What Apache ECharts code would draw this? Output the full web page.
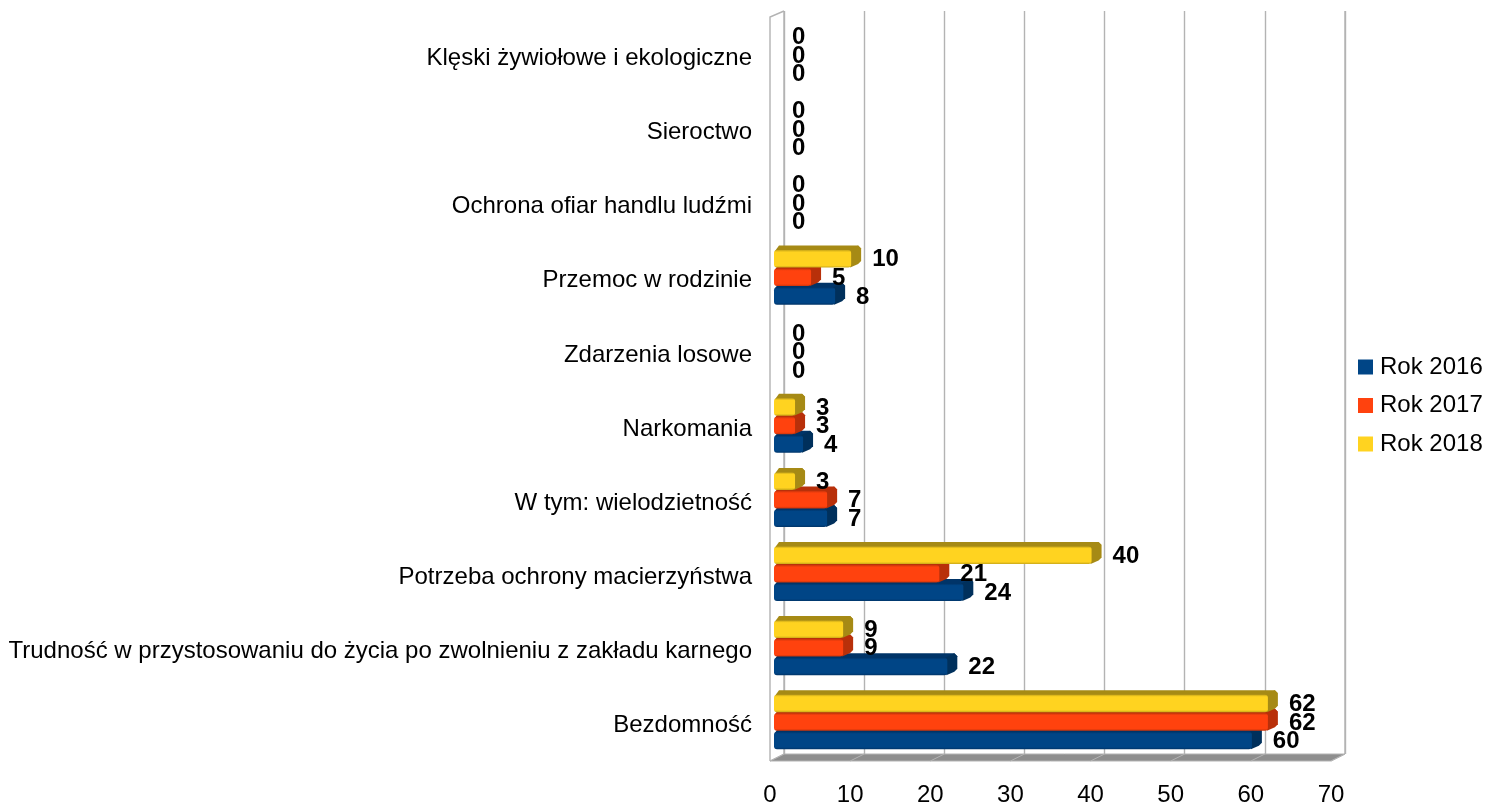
<!DOCTYPE html>
<html>
<head>
<meta charset="utf-8">
<title>Rok 2016-2018</title>
<script src="https://cdn.jsdelivr.net/npm/echarts@6/dist/echarts.min.js"></script>
<style>
    html, body {margin: 0; padding: 0; background: #fff;}
    #main {width: 1496px; height: 807px;}
</style>
</head>
<body>
<div id="main"></div>
<script>
// bottom to top, same order as the value axis
const categories = [
    'Bezdomność',
    'Trudność w przystosowaniu do życia po zwolnieniu z zakładu karnego',
    'Potrzeba ochrony macierzyństwa',
    'W tym: wielodzietność',
    'Narkomania',
    'Zdarzenia losowe',
    'Przemoc w rodzinie',
    'Ochrona ofiar handlu ludźmi',
    'Sieroctwo',
    'Klęski żywiołowe i ekologiczne'
];
const rok2016 = [60, 22, 24, 7, 4, 0, 8, 0, 0, 0];
const rok2017 = [62, 9, 21, 7, 3, 0, 5, 0, 0, 0];
const rok2018 = [62, 9, 40, 3, 3, 0, 10, 0, 0, 0];
const valueTicks = [0, 10, 20, 30, 40, 50, 60, 70];

const FONT = '"Liberation Sans", Arial, sans-serif';
const GRID_LINE = '#b3b3b3';
const WALL_DX = 14, WALL_DY = 7;   // back wall offset from the front plane
const BAR_DX = 10, BAR_DY = 4.5;   // depth of one bar
const BAR_SHIFT = -3.5;            // bars sit a little above the category label

function grad(c1, c2) {
    return new echarts.graphic.LinearGradient(0, 0, 0, 1, [
        {offset: 0, color: c1},
        {offset: 0.12, color: c2},
        {offset: 0.88, color: c2},
        {offset: 1, color: c1}
    ]);
}

function barSeries(name, values, slot, color) {
    return {
        name: name,
        type: 'custom',
        coordinateSystem: 'cartesian2d',
        xAxisIndex: 0,
        yAxisIndex: 0,
        itemStyle: {color: color.base},
        clip: false,
        silent: true,
        data: values.map(function (v, i) { return [v, i]; }),
        encode: {x: 0, y: 1},
        renderItem: function (params, api) {
            let v = api.value(0);
            let p = api.coord([v, api.value(1)]);
            let x0 = api.coord([0, 0])[0] + 4;
            let step = api.size([0, 1])[1] * 0.25;
            let h = 17.5;
            let yc = p[1] + BAR_SHIFT + slot * step;
            let yt = yc - h / 2, yb = yc + h / 2;
            let children = [];
            if (v > 0) {
                let x = p[0] + 1;
                children.push({
                    type: 'polygon',
                    shape: {points: [[x0 + 1, yt + 1], [x0 + 5, yt - BAR_DY], [x + BAR_DX - 3, yt - BAR_DY], [x + BAR_DX, yt - BAR_DY + 3], [x + 1, yt + 1]]},
                    style: {fill: color.top}
                });
                children.push({
                    type: 'polygon',
                    shape: {points: [[x - 2, yt], [x + BAR_DX - 3, yt - BAR_DY], [x + BAR_DX, yt - BAR_DY + 3], [x + BAR_DX, yb - BAR_DY - 2], [x + BAR_DX - 3, yb - BAR_DY + 1], [x - 1, yb]]},
                    style: {fill: color.side}
                });
                children.push({
                    type: 'rect',
                    shape: {x: x0, y: yt, width: x - x0, height: h, r: 3},
                    style: {fill: grad(color.edge, color.base)}
                });
            }
            children.push({
                type: 'text',
                z2: 100,
                style: {
                    x: p[0] + 22,
                    y: yc + 1,
                    text: String(v),
                    font: 'bold 24px ' + FONT,
                    fill: '#000',
                    textAlign: 'left',
                    textVerticalAlign: 'middle',
                    verticalAlign: 'middle'
                }
            });
            return {type: 'group', children: children};
        }
    };
}

// floor and the left/right wall edges, hung on the back wall grid
const frameSeries = {
    type: 'custom',
    coordinateSystem: 'cartesian2d',
    xAxisIndex: 1,
    yAxisIndex: 1,
    clip: false,
    silent: true,
    z: 1,
    data: [[0, 0]],
    renderItem: function (params, api) {
        let c = params.coordSys;
        let l = c.x, r = c.x + c.width, t = c.y, b = c.y + c.height;
        let line = {stroke: GRID_LINE, lineWidth: 1.4, fill: null};
        let children = [
            {type: 'polygon', shape: {points: [[l, b], [r, b], [r - WALL_DX, b + WALL_DY], [l - WALL_DX, b + WALL_DY]]}, style: {fill: '#8e8e8e', stroke: GRID_LINE, lineWidth: 1}},
            {type: 'polyline', shape: {points: [[l, t], [l - WALL_DX, t + 6], [l - WALL_DX, b + WALL_DY]]}, style: line},
            {type: 'line', shape: {x1: l, y1: t, x2: l, y2: b}, style: line},
            {type: 'line', shape: {x1: r, y1: t, x2: r, y2: b}, style: line}
        ];
        valueTicks.forEach(function (tick) {
            let x = api.coord([tick, 0])[0];
            children.push({type: 'line', shape: {x1: x, y1: b, x2: x - WALL_DX, y2: b + WALL_DY}, style: {stroke: GRID_LINE, lineWidth: 1}});
        });
        return {type: 'group', children: children};
    }
};

const myChart = echarts.init(document.getElementById('main'));
myChart.setOption({
    animation: false,
    backgroundColor: '#fff',
    textStyle: {fontFamily: FONT},
    legend: {
        orient: 'vertical',
        left: 1358,
        top: 355,
        padding: 0,
        itemWidth: 15,
        itemHeight: 15,
        itemGap: 14.5,
        icon: 'rect',
        selectedMode: false,
        data: ['Rok 2016', 'Rok 2017', 'Rok 2018'],
        textStyle: {fontFamily: FONT, fontSize: 24, color: '#000', padding: [0, 0, 0, 2]}
    },
    grid: [
        {left: 770, top: 21.5, width: 561, height: 741},
        {left: 784, top: 11, width: 561, height: 743}
    ],
    xAxis: [
        {
            type: 'value', gridIndex: 0, min: 0, max: 70, interval: 10,
            axisLine: {show: false}, axisTick: {show: false}, splitLine: {show: false},
            axisLabel: {margin: 20.5, fontSize: 24, color: '#000', fontFamily: FONT}
        },
        {
            type: 'value', gridIndex: 1, min: 0, max: 70, interval: 10,
            axisLine: {show: false}, axisTick: {show: false}, axisLabel: {show: false},
            splitLine: {show: true, lineStyle: {color: GRID_LINE, width: 1.4}}
        }
    ],
    yAxis: [
        {
            type: 'category', gridIndex: 0, data: categories,
            axisLine: {show: false}, axisTick: {show: false}, splitLine: {show: false},
            axisLabel: {margin: 18, fontSize: 24, color: '#000', fontFamily: FONT, interval: 0}
        },
        {
            type: 'category', gridIndex: 1, data: categories, show: false
        }
    ],
    series: [
        frameSeries,
        barSeries('Rok 2016', rok2016, 1, {base: '#004586', edge: '#003468', top: '#003468', side: '#00305c'}),
        barSeries('Rok 2017', rok2017, 0, {base: '#ff420e', edge: '#c9340b', top: '#b8300a', side: '#b8300a'}),
        barSeries('Rok 2018', rok2018, -1, {base: '#ffd320', edge: '#c9a718', top: '#a68a15', side: '#a68a15'})
    ]
});
</script>
</body>
</html>
